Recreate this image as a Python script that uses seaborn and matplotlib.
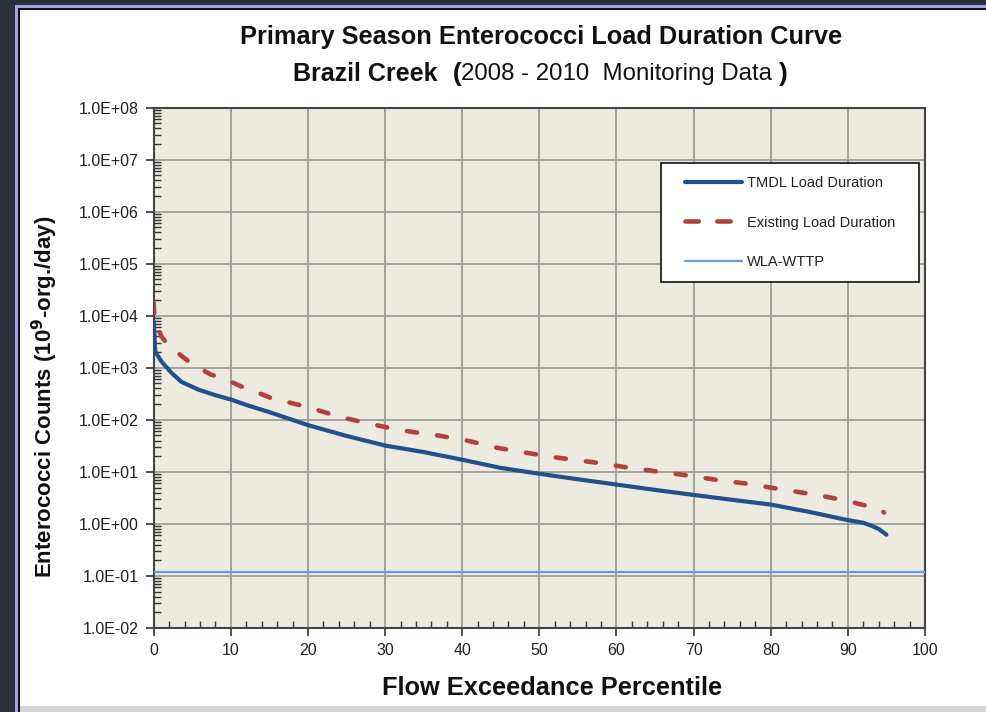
import numpy as np
import pandas as pd
import matplotlib
matplotlib.use("Agg")
import matplotlib.pyplot as plt
import matplotlib.patches as mpatches
from matplotlib.ticker import FixedLocator, LogLocator, FuncFormatter, NullFormatter
import seaborn as sns

# ---------------- data ----------------
tmdl_pct = [0, 0.2, 1, 2.3, 3.6, 5.8, 7.9, 10, 12.3, 14.9, 20, 25, 30, 35, 40, 45,
            50, 55, 60, 65, 70, 75, 80, 85, 90, 92, 93, 94, 95]
tmdl_load = [7800, 2040, 1320, 800, 535, 380, 300, 245, 187, 142, 79, 49, 32, 24, 17.1, 11.9,
             9.2, 7.2, 5.7, 4.5, 3.6, 2.9, 2.35, 1.7, 1.18, 1.05, 0.93, 0.8, 0.62]

exist_pct = [0, 0.1, 1, 1.85, 3.8, 5.3, 7.4, 9.1, 11.3, 13, 15.2, 20, 24.2, 28, 32, 36.5,
             40.6, 44.5, 48.5, 52.6, 57, 61, 65, 69.3, 73, 77.4, 81.4, 85.5, 89.8, 93.9, 94.7]
exist_load = [17500, 8300, 4000, 2760, 1600, 1100, 740, 620, 440, 355, 263, 175, 113, 84, 63, 51,
              40, 29, 23, 18.5, 15.3, 12.4, 10.3, 8.5, 7.0, 5.8, 4.6, 3.7, 2.8, 1.95, 1.66]

wla_pct = [0, 100]
wla_load = [0.12, 0.12]

series_labels = ["TMDL Load Duration", "Existing Load Duration", "WLA-WTTP"]
x_ticks = [0, 10, 20, 30, 40, 50, 60, 70, 80, 90, 100]
y_ticks = [1e-2, 1e-1, 1e0, 1e1, 1e2, 1e3, 1e4, 1e5, 1e6, 1e7, 1e8]

# ---------------- style ----------------
sns.set_style("ticks")
plt.rcParams['font.family'] = ['Liberation Sans', 'DejaVu Sans']

W, H = 986, 712
fig = plt.figure(figsize=(W / 100, H / 100), dpi=100)
fig.patch.set_facecolor('#29303a')

def fx(px):
    return px / W

def fy(py):
    return 1 - py / H

# frame decoration (behind axes)
for (x0, y0, c) in [(15, 5, '#a3a3e6'), (18, 8, '#111111'), (20, 10, 'white')]:
    fig.patches.append(mpatches.Rectangle((fx(x0), 0), fx(W - x0), fy(y0),
                                          transform=fig.transFigure, facecolor=c,
                                          edgecolor='none', zorder=-10))
fig.patches.append(mpatches.Rectangle((fx(20), 0), fx(W - 20), 6 / H, transform=fig.transFigure,
                                      facecolor='#d4d4d4', edgecolor='none', zorder=-9))

left, right, top, bottom = 153.7, 925, 107.5, 628
ax = fig.add_axes([fx(left), fy(bottom), fx(right - left), (bottom - top) / H])
ax.set_facecolor('#edebe0')

def ax_x(px):
    return (px - left) / (right - left)

def ax_y(py):
    return 1 - (py - top) / (bottom - top)

blue = '#23508a'
red = '#b3403d'
light = '#6a9be0'

sns.lineplot(x=wla_pct, y=wla_load, ax=ax, color=light, linewidth=1.6,
             label=series_labels[2], zorder=3)
sns.lineplot(x=exist_pct, y=exist_load, ax=ax, color=red, linewidth=3.3,
             label=series_labels[1], zorder=4)
sns.lineplot(x=tmdl_pct, y=tmdl_load, ax=ax, color=blue, linewidth=3.0,
             label=series_labels[0], zorder=5)

lines = ax.get_lines()
for ln in lines:
    ln.set_solid_capstyle('round')
    ln.set_dash_capstyle('round')
lines[1].set_linestyle((0, (2.2, 4.4)))
lines[1].set_dash_capstyle('round')

ax.set_yscale('log')
ax.set_xlim(0, 100)
ax.set_ylim(1e-2, 1e8)

ax.xaxis.set_major_locator(FixedLocator(x_ticks))
ax.xaxis.set_minor_locator(FixedLocator([v for v in range(0, 101, 2) if v % 10 != 0]))
ax.yaxis.set_major_locator(FixedLocator(y_ticks))
ax.yaxis.set_minor_locator(LogLocator(base=10, subs=np.arange(2, 10), numticks=100))
ax.yaxis.set_major_formatter(FuncFormatter(lambda v, p: f"{v:.1E}"))
ax.yaxis.set_minor_formatter(NullFormatter())

ax.tick_params(axis='both', which='major', direction='out', length=6, width=1.2,
               color='#333333', labelsize=11.5, labelcolor='#222222', pad=5)
ax.tick_params(axis='both', which='minor', direction='in', length=5, width=1.0, color='#333333')

ax.grid(True, which='major', color='#9c9c9c', linewidth=1.3)
ax.grid(False, which='minor')
ax.set_axisbelow(True)

for s in ax.spines.values():
    s.set_visible(True)
    s.set_color('#444444')
    s.set_linewidth(1.5)

ax.set_xlabel("")
ax.set_ylabel("")

# legend: frame drawn as a rectangle, entries placed inside
ax.add_patch(mpatches.Rectangle((ax_x(661), ax_y(282)), ax_x(919) - ax_x(661),
                                ax_y(163) - ax_y(282), transform=ax.transAxes,
                                facecolor='white', edgecolor='#111111', linewidth=1.2,
                                zorder=8))
handles, labels = ax.get_legend_handles_labels()
order = [labels.index(l) for l in series_labels]
leg = ax.legend([handles[i] for i in order], [labels[i] for i in order],
                loc='upper left', bbox_to_anchor=(ax_x(685), ax_y(176)),
                fontsize=10.5, handlelength=3.9, handletextpad=0.35,
                labelspacing=1.75, borderpad=0, borderaxespad=0, frameon=False)
leg.set_zorder(9)
for t in leg.get_texts():
    t.set_color('#222222')
leg.legend_handles[1].set_linestyle((0, (2.9, 4.05)))
leg.legend_handles[1].set_dash_capstyle('round')

# titles
fig.text(fx(541), fy(37), "Primary Season Enterococci Load Duration Curve",
         ha='center', va='center', fontsize=18.3, fontweight='bold', color='#111111')
t1 = fig.text(fx(293), fy(74), "Brazil Creek", ha='left', va='center',
              fontsize=18, fontweight='bold', color='#111111')
t2 = ax.annotate("  (", xy=(1, 0), xycoords=t1, va='bottom', ha='left',
                 fontsize=19, fontweight='bold', color='#111111', annotation_clip=False)
t3 = ax.annotate("2008 - 2010  Monitoring Data ", xy=(1, 0.03), xycoords=t2, va='bottom',
                 ha='left', fontsize=17.3, color='#111111', annotation_clip=False)
t4 = ax.annotate(")", xy=(1, -0.03), xycoords=t3, va='bottom', ha='left',
                 fontsize=19, fontweight='bold', color='#111111', annotation_clip=False)

fig.text(fx(552), fy(688), "Flow Exceedance Percentile", ha='center', va='center',
         fontsize=18.3, fontweight='bold', color='#111111')
fig.text(fx(45), fy(397), "Enterococci Counts (10$^{\\mathbf{9}}$-org./day)", ha='center',
         va='center', rotation=90, fontsize=16, fontweight='bold', color='#111111')

fig.savefig("out.png", dpi=100, facecolor=fig.get_facecolor())
